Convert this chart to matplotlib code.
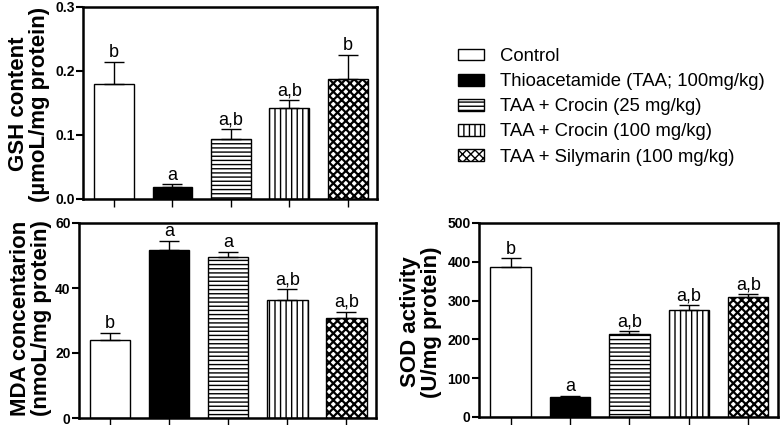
import matplotlib
matplotlib.use('Agg')
import matplotlib.pyplot as plt
from matplotlib.patches import Patch

plt.rcParams['font.family'] = ['Liberation Sans', 'DejaVu Sans']
plt.rcParams['hatch.linewidth'] = 1.0

groups = ['Control', 'Thioacetamide (TAA; 100mg/kg)', 'TAA + Crocin (25 mg/kg)',
          'TAA + Crocin (100 mg/kg)', 'TAA + Silymarin (100 mg/kg)']
colors = ['white', 'black', 'white', 'white', 'white']
hatches = ['', '', '----', '|||', 'xxxx']
hatch_lw = [1.0, 1.0, 1.0, 1.0, 1.6]

gsh = [0.180, 0.019, 0.093, 0.142, 0.188]
gsh_err = [0.034, 0.004, 0.016, 0.012, 0.037]
gsh_sig = ['b', 'a', 'a,b', 'a,b', 'b']

mda = [24.1, 51.6, 49.5, 36.2, 30.8]
mda_err = [2.2, 2.8, 1.5, 3.4, 1.9]
mda_sig = ['b', 'a', 'a', 'a,b', 'a,b']

sod = [387, 52, 214, 277, 310]
sod_err = [22, 2, 8, 12, 7]
sod_sig = ['b', 'a', 'a,b', 'a,b', 'a,b']

W, H = 780, 425
fig = plt.figure(figsize=(W / 100, H / 100), dpi=100)


def px_axes(x0, x1, ytop, ybot):
    return fig.add_axes([x0 / W, 1 - ybot / H, (x1 - x0) / W, (ybot - ytop) / H])


def set_hlw(patch, lw):
    if hasattr(patch, 'set_hatch_linewidth'):
        patch.set_hatch_linewidth(lw)


def draw_panel(ax, vals, errs, sig, ymax, yticks, fmt):
    x = range(len(vals))
    bars = ax.bar(x, vals, width=0.68, color=colors, edgecolor='black', linewidth=1.0,
                  hatch=hatches, zorder=2)
    for b, lw in zip(bars, hatch_lw):
        set_hlw(b, lw)
    ax.errorbar(x, vals, yerr=[[0] * len(vals), errs], fmt='none', ecolor='black',
                elinewidth=1.0, capsize=7, capthick=1.0, zorder=3)
    for xi, v, e, s in zip(x, vals, errs, sig):
        ax.text(xi, v + e + ymax * 0.004, s, ha='center', va='bottom', fontsize=13)
    ax.set_xlim(-0.53, 4.5)
    ax.set_ylim(0, ymax)
    ax.set_yticks(yticks)
    ax.set_yticklabels([fmt.format(t) for t in yticks], fontweight='bold', fontsize=10)
    ax.set_xticks(list(x))
    ax.set_xticklabels([])
    ax.tick_params(axis='y', direction='out', length=5, width=1.5, pad=1)
    ax.tick_params(axis='x', direction='out', length=6, width=1.0)
    for sp in ax.spines.values():
        sp.set_linewidth(1.8)


ax1 = px_axes(83, 377, 7, 199)
draw_panel(ax1, gsh, gsh_err, gsh_sig, 0.3, [0.0, 0.1, 0.2, 0.3], '{:.1f}')
fig.text(29 / W, 1 - 104 / H, 'GSH content\n(µmoL/mg protein)', rotation=90,
         ha='center', va='center', ma='center', fontsize=16, fontweight='bold',
         linespacing=1.0)

ax2 = px_axes(79, 376, 223, 418)
draw_panel(ax2, mda, mda_err, mda_sig, 60, [0, 20, 40, 60], '{:d}')
fig.text(31 / W, 1 - 318 / H, 'MDA concentarion\n(nmoL/mg protein)', rotation=90,
         ha='center', va='center', ma='center', fontsize=16, fontweight='bold',
         linespacing=1.0)

ax3 = px_axes(479, 778, 223, 417)
draw_panel(ax3, sod, sod_err, sod_sig, 500, [0, 100, 200, 300, 400, 500], '{:d}')
fig.text(421 / W, 1 - 322 / H, 'SOD activity\n(U/mg protein)', rotation=90,
         ha='center', va='center', ma='center', fontsize=16, fontweight='bold',
         linespacing=1.0)

handles = []
for c, h, lw in zip(colors, hatches, hatch_lw):
    p = Patch(facecolor=c, edgecolor='black', hatch=h, linewidth=1.0)
    set_hlw(p, lw)
    handles.append(p)
fig.legend(handles, groups, loc='upper left', bbox_to_anchor=(458 / W, 1 - 48 / H),
           frameon=False, fontsize=13.3, handlelength=1.4, handleheight=0.62,
           handletextpad=0.85, labelspacing=0.44, borderpad=0, borderaxespad=0)

fig.savefig('out.png', dpi=100)
